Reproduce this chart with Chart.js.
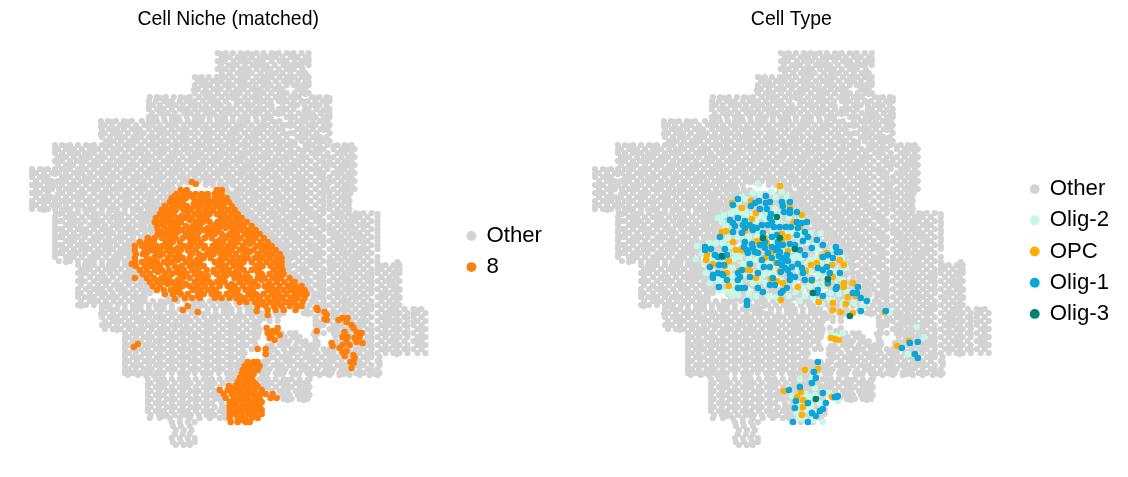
<!DOCTYPE html>
<html lang="en">
<head>
  <meta charset="UTF-8" />
  <title>Cell Niche and Cell Type</title>
  <script src="https://cdn.jsdelivr.net/npm/chart.js"></script>
  <style>
    html, body { margin: 0; background: #fff; overflow: hidden; width: 1128px; height: 477px; }
    canvas { position: absolute; top: 0; }
  </style>
</head>
<body>
  <canvas id="nicheChart" width="554" height="503" style="left:-2px"></canvas>
  <canvas id="typeChart" width="558" height="503" style="left:561px"></canvas>

  <script>
    const nicheTitle = 'Cell Niche (matched)';
    const typeTitle = 'Cell Type';
    const nicheLabels = ['Other', '8'];
    const typeLabels = ['Other', 'Olig-2', 'OPC', 'Olig-1', 'Olig-3'];

    // spatial cells outside the niche, one row per line: [y, x, x, x, ...]
    const otherRows = [
      [53,218,226,233,241,248,257,264,272,279,287,294,302,309],
      [57,222,230,238,245,252,260,268,276,283,291,298,306],
      [61,218,225,234,241,249,256,263,272,280,287,295,302,309],
      [65,221,229,237,245,253,260,267,275,284,290,298,309],
      [69,218,226,233,241,249,257,264,271,279,287,294,303],
      [73,222,230,238,245,252,261,268,276,283,291,299,306],
      [77,195,202,209,217,226,233,241,248,257,264,272,280,287,295,302,309],
      [81,198,206,213,222,229,237,245,253,260,268,276,284,291,298,306],
      [85,195,202,210,218,225,233,241,249,256,264,271,279,287,294,303,309],
      [89,198,206,214,221,229,237,244,252,261,268,275,283,298,306],
      [93,195,203,210,218,226,233,240,248,256,264,272,280,287,295,302,309],
      [97,150,157,166,174,181,190,199,206,214,222,229,237,245,252,260,268,276,284,291,299,312,320,327],
      [101,149,156,164,172,180,187,195,203,210,218,226,241,248,256,264,271,279,287,294,302,308,316,323,330],
      [105,153,160,168,176,183,191,199,206,214,221,229,237,245,253,260,268,283,291,298,305,312,320,327],
      [109,149,157,164,172,180,188,195,202,210,218,225,233,241,249,256,264,272,279,287,294,309,317,330],
      [113,152,160,168,175,184,191,198,206,214,222,230,237,245,252,260,268,275,283,291,299,305,313,321,328],
      [117,149,156,164,172,179,187,195,203,210,217,225,233,241,248,256,264,271,287,295,303,309,316,324,330],
      [121,101,108,116,124,132,142,149,157,165,172,180,188,195,202,210,218,226,233,240,248,257,264,272,280,291,298,306,313,320,328],
      [125,105,112,120,128,136,145,153,160,168,176,184,191,199,206,214,222,229,237,245,252,260,268,276,283,287,294,302,309,316,324,330],
      [129,102,109,117,124,132,140,149,156,164,172,179,187,195,203,210,218,225,233,241,249,256,264,272,279,298,306,313,321,328],
      [133,105,113,120,128,136,144,152,160,168,175,183,191,198,206,214,222,230,237,245,253,260,268,275,283,291,294,302,309,317,330],
      [137,102,110,117,125,133,141,149,157,164,172,179,187,195,203,210,218,226,233,240,248,256,264,272,279,287,298,306,313,321,327],
      [141,106,114,121,129,137,145,153,160,168,176,183,191,199,206,214,221,229,237,245,252,260,268,276,283,291,302,309,317,324,330],
      [145,55,62,70,78,86,94,102,110,118,125,133,141,149,157,164,172,180,187,195,203,210,218,226,233,241,248,256,264,272,280,287,295,306,313,320,328,338,345,352],
      [149,58,66,74,82,90,98,106,113,121,129,137,145,153,160,168,176,184,191,198,206,214,222,229,237,245,252,260,268,276,283,291,299,309,316,324,334,342,349,355],
      [153,55,62,70,78,85,94,102,109,117,125,133,141,148,156,164,172,180,188,195,202,210,218,226,233,241,249,256,264,271,279,287,295,303,312,320,328,338,345,352],
      [157,58,66,74,81,90,98,105,113,121,129,136,144,152,160,168,175,183,191,199,206,214,221,229,237,245,253,260,268,276,283,291,299,307,316,324,334,342,349,355],
      [161,55,62,70,77,86,94,102,110,117,125,133,141,149,156,164,172,179,187,195,203,210,218,226,233,241,248,256,264,272,280,287,295,303,311,320,330,338,345,352],
      [165,58,66,73,82,90,98,106,114,121,129,137,145,153,160,168,176,183,191,199,206,214,222,229,237,245,252,260,268,276,284,291,299,307,316,324,334,342,349,355],
      [169,32,40,48,55,62,70,78,86,94,102,109,117,125,133,141,149,157,164,172,180,187,195,203,210,218,226,233,241,249,256,264,272,280,287,295,303,311,320,328,338,345,352],
      [173,36,44,52,59,66,74,82,90,98,106,113,121,129,137,145,153,160,168,176,183,191,199,206,214,222,229,237,245,252,260,268,276,284,291,299,307,316,324,334,342,349,355],
      [177,32,40,48,62,70,78,85,94,102,110,117,125,133,141,148,156,164,172,180,188,195,203,210,218,226,233,241,248,256,264,272,279,287,295,303,311,320,330,338,345,352],
      [181,36,44,52,58,66,74,81,90,98,105,113,121,129,137,144,152,160,168,175,183,191,199,206,214,221,229,237,245,253,260,268,276,283,291,299,307,316,324,334,342,349,355],
      [185,32,40,48,55,62,70,78,86,94,102,109,117,125,133,141,149,157,164,172,180,206,213,220,226,233,241,249,256,264,272,280,287,295,303,311,320,328,338,345,352],
      [189,36,44,52,59,66,74,82,90,98,106,113,121,129,137,145,153,160,168,174,227,237,245,252,260,268,276,284,291,299,307,316,324,334,342,349,355],
      [193,32,40,48,62,70,78,85,94,102,110,117,125,133,141,148,156,164,171,229,236,241,248,256,264,272,279,287,295,303,311,320,330,338,345,351],
      [197,36,44,52,58,66,74,82,90,98,105,113,121,129,137,145,152,160,167,232,238,245,253,260,268,276,283,291,299,307,316,324,334,342,349],
      [201,32,40,48,55,62,70,78,86,94,102,109,117,125,133,141,149,157,164,234,241,249,256,264,272,280,287,295,303,311,320,330,338,345,350],
      [205,36,44,52,59,66,74,82,90,98,106,113,121,129,137,145,153,159,238,245,252,260,268,276,284,291,299,307,316,324,334,342,349],
      [209,32,40,48,55,62,70,78,85,94,102,110,117,125,133,141,148,156,241,248,256,264,272,279,287,295,303,311,320,330,338,345,350],
      [213,56,62,70,78,86,94,102,109,117,125,133,141,149,154,244,252,260,268,276,283,291,299,307,316,324,334,342,349,356,364,372],
      [217,55,66,74,82,90,98,106,113,121,129,137,145,150,248,256,264,272,279,287,295,303,311,320,330,338,345,352,360,368,378],
      [221,59,62,70,78,85,94,102,110,117,125,133,141,149,253,260,268,276,284,291,299,307,316,324,334,342,349,356,364,372],
      [225,55,66,74,81,90,98,105,113,121,129,136,144,151,258,264,272,280,287,295,303,311,320,330,338,345,352,360,368,378],
      [229,59,62,70,78,86,94,102,110,118,125,133,141,148,152,262,268,276,283,291,299,307,316,324,334,342,349,356,364,372],
      [233,55,66,74,82,90,98,106,113,121,129,137,145,152,266,272,279,287,295,303,311,320,330,338,345,352,360,368,378],
      [237,59,62,70,78,85,94,102,109,117,125,133,141,149,270,276,284,291,299,307,316,324,334,342,349,356,364,372],
      [241,55,66,74,82,90,98,106,114,121,129,134,274,280,287,295,303,311,320,330,338,345,352,360,368,378],
      [245,59,62,70,78,86,94,102,110,117,125,129,278,283,291,299,307,316,324,334,342,349,356,364,372],
      [249,55,66,74,81,90,98,105,113,121,129,282,287,295,303,311,320,330,338,345,352,360,368,378],
      [253,59,62,70,78,85,94,102,109,117,125,130,286,291,299,307,316,324,334,342,349,356,364,372],
      [257,55,66,74,82,90,98,106,114,121,129,288,295,303,311,320,330,338,345,352,360,368,378],
      [261,59,70,78,86,94,102,110,118,125,129,289,299,307,316,324,334,342,349,356,364,372],
      [265,78,85,94,102,109,117,125,130,288,295,303,311,320,330,338,345,352,360,368,378,386,394,400],
      [269,81,90,98,106,114,121,129,134,289,299,307,316,324,334,342,349,356,364,372,382,390,397],
      [273,78,86,94,102,110,117,125,133,137,290,295,303,311,320,330,338,345,352,360,368,378,386,394,400],
      [277,81,90,98,105,113,121,129,136,141,296,299,307,316,324,334,342,349,356,364,372,382,390,397],
      [281,78,85,94,102,109,117,125,133,141,144,301,311,320,330,338,345,352,360,368,378,386,394,400],
      [285,81,90,98,106,114,121,129,137,147,308,316,324,334,342,349,356,364,372,382,390,397],
      [289,78,86,94,102,110,118,125,133,141,151,311,320,330,338,345,352,360,368,378,386,394,400],
      [293,81,90,98,105,113,121,129,136,144,150,314,324,334,342,349,356,364,372,382,390,397],
      [297,78,85,94,102,109,117,125,133,141,145,168,178,314,320,330,338,345,352,360,368,378,386,394,400],
      [301,81,90,98,106,114,121,129,137,145,153,161,170,178,186,194,202,210,218,226,236,312,324,334,342,349,356,364,372,382,390,397],
      [305,78,86,94,102,110,118,125,133,141,149,156,164,172,194,205,213,221,229,238,246,310,320,330,338,345,352,360,368,378,386,394,400],
      [309,102,109,117,125,133,141,149,157,164,172,180,189,197,208,216,224,232,240,248,255,307,315,324,334,342,349,356,364,372,382,390,397,405,414,422],
      [313,105,113,121,129,136,144,152,160,168,175,184,192,200,208,216,224,232,240,248,256,262,276,284,304,311,320,330,338,345,352,360,368,378,386,394,400,408,418,426],
      [317,102,110,117,125,133,141,149,156,164,172,180,188,196,204,212,220,228,236,244,252,260,270,278,316,324,334,342,349,356,364,372,382,390,397,405,414,422],
      [321,105,113,121,129,137,145,153,160,168,176,183,191,199,207,215,223,231,239,247,255,260,270,278,316,330,338,345,352,360,368,378,386,394,400,408,418,426],
      [325,102,109,117,125,133,141,148,156,164,172,180,187,195,203,211,219,227,235,243,251,258,316,324,334,342,349,356,364,372,382,390,397,405,414,422],
      [329,105,113,121,129,136,144,152,160,168,175,183,191,199,207,215,223,231,239,247,255,260,318,330,338,345,352,360,368,378,386,394,400,408,418,426],
      [333,125,133,141,149,157,164,172,180,188,195,203,211,219,227,235,243,251,259,282,290,296,318,324,334,342,349,356,364,372,382,390,397,405,414,422],
      [337,129,136,144,152,160,168,176,183,191,199,207,215,223,231,239,247,255,258,285,293,300,336,345,352,360,368,378,386,394,400,408,418,426],
      [341,125,133,141,149,156,164,172,180,187,195,203,211,219,227,235,243,251,255,282,290,298,306,316,336,342,349,356,364,372,382,390,397,405,414,422],
      [345,129,137,145,153,160,168,176,184,191,199,207,215,223,231,239,247,256,272,280,288,296,304,312,318,337,345,352,360,368,378,386,394,400,408,418,426],
      [349,125,133,141,148,156,164,172,180,188,195,203,211,219,227,235,243,252,275,284,292,300,308,316,324,330,349,356,364,372,382,390,397,405,414,422],
      [353,129,136,144,152,160,168,175,183,191,199,207,215,223,231,239,245,270,278,286,294,302,310,318,326,334,342,352,360,368,378,386,394,400,408,418,426],
      [357,125,133,141,149,157,164,172,180,188,195,203,211,219,227,235,243,268,274,282,290,298,306,314,322,330,338,346,356,364,372,380],
      [361,129,137,145,153,160,168,176,183,191,199,207,215,223,231,239,243,265,278,286,294,302,310,318,326,334,342,350,360,368,378],
      [365,125,133,141,149,156,164,172,180,187,195,203,211,219,227,235,240,265,274,282,290,298,306,314,322,330,338,346,356,364,372,380],
      [369,129,136,144,152,160,168,175,183,191,199,207,215,223,231,238,263,270,278,286,294,302,310,318,326,334,342,350,360,368,378],
      [373,125,133,141,149,157,164,172,180,188,195,203,211,219,227,236,262,268,276,284,292,300,308,316,324,332,340,348,356,364,372,380],
      [375,128,138,146,154,310,320,330,340,350,360,370,378],
      [379,148,156,164,172,180,188,196,204,212,220,228,234,260,268,276,284,292,300,310],
      [383,151,159,167,175,183,191,199,207,215,223,232,264,272,280,288,296,304,308],
      [387,148,156,164,172,180,188,196,204,212,220,230,262,268,276,284,292,300,310],
      [391,151,159,167,175,183,191,199,207,215,220,265,272,280,288,296,304,308],
      [395,148,156,164,172,180,188,196,204,212,218,282,290,298,306,310],
      [399,151,159,167,175,183,191,199,207,215,220,284,292,300,308],
      [403,148,156,164,172,180,188,196,204,212,222],
      [407,151,159,167,175,183,191,199,207,215,225],
      [411,148,156,164,172,180,188,196,204,212,220,226],
      [415,151,159,167,175,183,191,199,207,215,224],
      [418,150,160,170,180,190,200,210,220,226],
      [422,172,180,188,195],
      [426,173,181,190],
      [430,176,184,192],
      [434,175,183,190],
      [438,172,180,188,195],
      [442,173,181,189,195],
      [445,176,184,190]
    ];

    // cells lying between those rows
    const otherInfill = [
      [54,222,246,253,276,291],
      [58,226,241,264,272,295,309],
      [62,222,245,260,283,306],
      [66,233,257,264,294,302],
      [70,222,245,268,291],
      [74,241,249,272,302],
      [78,198,222,245,268,291,306],
      [82,202,218,241,264,287,309],
      [86,206,230,245,268,298],
      [90,194,218,241,256,279,302],
      [94,206,237,260,283,306],
      [98,161,186,210,233,256,280,295,316,330],
      [102,168,191,214,237,260,283,304,327],
      [106,149,172,195,218,249,272,294,316],
      [110,160,184,206,229,260,283,305,324],
      [114,164,187,210,226,256,279,309,330],
      [118,153,176,199,222,245,268,291,312,327],
      [122,112,128,153,176,199,222,244,276,302,324],
      [126,101,124,149,172,195,218,241,264,291,313],
      [130,113,136,160,183,206,237,260,283,302,324],
      [134,101,116,140,164,187,210,233,256,287,305],
      [138,121,137,153,183,206,229,252,275,302,317],
      [142,110,133,164,187,210,233,256,279,295,320],
      [146,66,90,106,129,153,176,199,222,245,268,291,309,334,349],
      [150,55,70,94,117,141,164,187,210,233,256,279,305,320,345],
      [154,74,90,113,137,160,176,199,222,245,268,291,316,342],
      [158,62,86,102,125,149,172,195,218,241,264,287,303,330,352],
      [162,58,82,98,121,145,168,191,214,237,252,276,299,324,349],
      [166,70,94,109,133,156,180,203,226,249,272,295,328,345],
      [170,44,66,82,106,129,153,176,199,222,245,268,291,316,342],
      [174,32,55,78,102,125,149,172,195,218,241,264,287,320,338],
      [178,44,66,90,113,137,160,183,206,229,252,276,299,324,349],
      [182,48,62,86,110,133,156,187,210,233,256,280,303,330,352],
      [186,36,52,74,98,121,145,168,222,252,276,299,324,349],
      [190,48,70,94,117,141,164,241,264,287,303,328,345],
      [194,36,58,82,105,129,152,233,253,276,299,324,349],
      [198,48,78,102,125,149,235,256,280,303,330,345],
      [202,44,66,90,106,129,153,238,253,276,299,324,349],
      [206,32,55,78,102,125,149,241,264,287,303,330],
      [210,44,66,90,113,137,152,245,260,284,307,324,349],
      [214,59,74,98,121,145,248,272,295,311,338,360,378],
      [218,70,94,117,141,252,276,291,316,342,356],
      [222,55,74,98,121,145,258,280,303,320,352,378],
      [226,70,94,117,141,262,276,299,324,349,364],
      [230,55,82,106,129,145,266,287,311,330,352,378],
      [234,62,86,110,133,270,291,316,334,356],
      [238,55,74,98,121,145,274,295,320,338,360,378],
      [242,70,94,110,130,278,299,324,342,364],
      [246,55,82,105,129,287,311,338,352,378],
      [250,62,86,109,125,286,316,342,364],
      [254,55,74,98,121,295,320,345,360],
      [258,70,94,117,291,316,338,356],
      [262,66,90,113,288,311,330,352,378,398],
      [266,90,114,291,316,334,356,382,397],
      [270,86,110,133,303,330,352,378,400],
      [274,81,102,129,307,324,349,372,394],
      [278,98,125,298,320,345,368,397],
      [282,81,105,129,305,324,349,372,390],
      [286,90,117,141,320,338,364,394],
      [290,98,121,146,324,349,372,400],
      [294,78,102,125,318,338,364,386],
      [298,90,113,137,324,356,382,400],
      [302,94,121,141,166,198,222,316,345,364,390],
      [306,81,106,137,160,201,225,250,326,349,372,394],
      [310,113,137,161,193,228,252,320,345,368,394,418],
      [314,101,125,148,172,204,228,252,280,308,334,364,390,414],
      [318,113,137,160,184,216,240,264,316,338,364,386,408],
      [322,117,141,164,187,211,235,258,320,342,364,390,414],
      [326,105,129,152,176,207,231,255,320,338,360,386,408],
      [330,117,141,164,187,211,235,258,334,349,372,397,422],
      [334,137,160,184,207,231,255,294,314,338,360,386,408],
      [338,125,148,172,195,219,243,281,297,316,349,372,397,422],
      [342,137,160,184,207,231,286,302,318,345,368,394,418],
      [346,125,149,172,195,219,243,268,284,308,316,349,372,397,422],
      [350,137,160,184,207,231,272,296,312,334,360,386,408],
      [354,125,148,172,195,219,243,266,290,306,330,349,372,397],
      [358,137,160,184,207,231,270,286,310,334,350,368],
      [362,125,149,172,195,219,268,290,314,330,356,380],
      [366,137,160,183,207,231,262,278,302,326,342,360],
      [370,125,148,172,195,219,266,282,306,330,346,372],
      [374,137,160,184,207,231,264,280,296,312,328,344,360,376],
      [380,160,184,208,230,264,288,308],
      [384,148,164,188,212,268,284,300],
      [388,160,184,208,266,288,306],
      [392,148,172,196,218,284,300],
      [396,160,184,208,286,302],
      [400,148,172,196,288,304],
      [404,160,184,208],
      [408,148,172,196,222],
      [412,160,184,208],
      [416,164,188,212]
    ];

    // cells of niche 8, same row layout
    const nicheRows = [
      [190,181,187,217,222],
      [194,177,184,190,196,202,208,215,222],
      [198,172,179,186,194,201,208,215,222,227],
      [202,170,176,183,198,205,212,219,226,229],
      [206,165,172,180,187,194,202,209,216,224,232],
      [210,162,169,176,184,191,199,206,213,221,228,235],
      [214,160,167,174,188,195,203,210,217,225,232,238],
      [218,156,163,171,178,185,192,200,207,221,229,236,242],
      [222,155,160,167,174,181,196,203,210,218,225,232,240,247],
      [226,157,164,171,178,186,193,200,214,222,229,237,244,252],
      [230,158,168,175,182,189,197,204,211,219,233,240,248,256],
      [234,158,165,172,186,193,208,215,222,230,237,245,252,260],
      [238,155,162,169,176,183,190,198,205,212,226,234,241,249,256,264],
      [242,140,147,154,166,173,180,194,201,216,223,231,238,246,253,261,268],
      [246,135,142,150,157,163,170,184,191,198,205,213,220,228,235,243,257,265,272],
      [250,135,145,152,160,167,174,181,188,196,210,217,225,232,240,247,254,262,269,276],
      [254,136,143,156,163,171,178,192,199,207,214,221,229,236,244,258,266,273,280],
      [258,135,147,154,168,175,183,190,204,211,226,233,240,248,255,263,270,277,282],
      [262,135,142,149,157,164,172,186,193,200,215,222,230,237,244,252,267,274,282],
      [266,136,145,152,160,175,182,190,197,204,219,226,234,241,256,263,271,278,282],
      [270,140,147,155,162,169,184,192,207,214,221,229,244,252,259,274,283],
      [274,143,150,165,172,180,187,195,202,217,224,232,239,247,262,270,277,284],
      [278,147,154,162,169,183,190,198,205,220,235,243,250,258,265,273,281,290],
      [282,150,157,165,172,180,195,202,210,217,225,240,247,255,269,277,285,295],
      [286,153,160,175,183,190,198,205,220,228,235,243,258,265,272,280,288,296,302],
      [290,157,164,171,178,193,201,208,216,231,238,246,253,268,276,284,291,299,305],
      [294,165,173,181,188,204,212,219,227,234,249,256,264,272,287,295,302,307],
      [298,185,192,200,215,222,230,237,245,252,260,268,275,283,291,298,305],
      [302,240,247,255,263,270,278,286,294,303],
      [306,258,266,274,282,290,298,302],
      [310,268,276,284,296],
      [362,248,254,258],
      [366,245,251,257,260],
      [370,243,249,255,258],
      [374,242,248,254],
      [378,240,246,252],
      [382,238,245,251,254],
      [386,229,236,243,250,258],
      [390,220,228,235,241,248,255,262],
      [394,224,232,239,246,253,260,266,273],
      [398,226,234,241,248,255,260,271,277],
      [402,230,237,245,252,258,262],
      [406,230,236,243,250,256,260],
      [410,230,238,246,253,259,262],
      [414,230,235,242,249,255,262],
      [418,230,238,245,252,258],
      [422,231,238,246,250]
    ];

    const nicheInfill = [
      [196,175,190,205,219],
      [200,181,202,216],
      [204,175,194,208,222],
      [208,165,183,198,220],
      [212,172,188,207,222],
      [216,166,182,199,221,236],
      [220,170,190,206,224],
      [224,162,177,199,217,235],
      [228,172,192,208,226,242],
      [232,162,178,199,216,236,254],
      [236,168,189,212,228,248],
      [240,150,172,194,220,236,252],
      [244,146,168,190,216,234,250,268],
      [248,156,178,204,222,244,262],
      [252,148,170,190,212,228,250,268],
      [256,160,180,202,224,244,260],
      [260,152,178,197,220,242,260,280],
      [264,148,168,194,218,236,260,280],
      [268,158,179,199,224,240,260],
      [272,158,176,198,214,236,258,280],
      [276,166,184,208,226,246,262,282],
      [280,160,178,204,222,240,262,278],
      [284,168,186,212,232,252,270,292],
      [288,180,196,212,234,250,272,294],
      [292,176,198,214,236,252,278,298],
      [296,198,218,240,258,280,296],
      [300,244,260,276,292],
      [304,262,280,296],
      [368,252],
      [372,251],
      [380,249],
      [384,240,256],
      [388,232,246],
      [392,236,250],
      [396,244,258],
      [400,240,256],
      [404,234,248],
      [408,241,256],
      [412,234,250],
      [416,240,254],
      [420,242]
    ];

    // stray niche cells and the small patches in the middle and on the right
    const nicheStray = [
      [192,182],[196,184],[148,238],[132,264],[135,278],[175,299],[183,310],[188,306],[198,312],
      [134,347],[138,344],[257,311],[268,315],
      [267,328],[278,328],[272,335],[280,335],[275,340],[268,333],[273,331],[277,332],[270,338],
      [258,349],[266,349],[266,354],
      [317,308],[318,310],[325,312],[327,315],[325,319],[327,320],[317,331],[332,343],[333,346],
      [339,320],[343,318],[348,318],[347,322],[352,325],[354,328],[357,332],[362,333],[355,338],[360,337],[363,343],[357,342],
      [345,332],[343,337],[348,337],[347,342],[343,345],[350,345],[340,348],[343,352],[347,351],[345,356],
      [354,355],[355,358],[351,362],[354,363],[352,368]
    ];

    const olig2Cells = [
      [195,184],[190,193],[219,192],[179,197],[183,199],[197,194],[208,192],[224,197],[213,197],[172,210],[183,212],[190,214],
      [198,216],[212,209],[216,216],[226,218],[238,219],[155,218],[159,222],[163,226],[176,213],[193,221],[203,219],[216,222],
      [229,232],[236,240],[244,243],[252,245],[258,233],[254,250],[247,260],[258,262],[234,256],[229,250],[222,249],[212,243],
      [205,238],[194,237],[186,237],[175,237],[165,238],[160,243],[153,243],[147,243],[134,246],[133,259],[141,263],[143,273],
      [147,283],[153,279],[158,281],[164,292],[169,296],[175,295],[168,268],[171,259],[177,257],[172,253],[167,246],[186,258],
      [193,260],[197,266],[206,262],[188,270],[180,264],[190,283],[197,280],[201,274],[208,274],[214,271],[213,258],[230,258],
      [235,270],[244,264],[248,272],[256,275],[262,278],[254,284],[247,286],[240,288],[233,292],[226,296],[213,297],[205,296],
      [193,296],[186,294],[177,283],[170,276],[166,270],[152,261],[149,256],[139,254],[270,248],[279,258],[283,268],[275,278],
      [261,287],[268,293],[276,294],[284,292],[280,303],[291,303],[300,305],[267,300],[259,304],[250,298],[242,296],[237,301],
      [248,233],[238,233],[224,234],[205,213],[210,231],[196,232],[183,216],[176,202],[168,213],[161,215],[150,261],[157,291],
      [171,291],[232,285],[218,280],[203,283],[184,275],[169,283],[238,258],[253,258],[266,262],[273,271],[280,280],
      [354,327],[361,337],[345,354],[327,313],[297,313],[268,333],[280,333],[273,336],
      [237,379],[249,378],[252,388],[260,422],[275,401],[247,397],[252,395],[257,403],[259,407],[244,410],[254,412],
      [237,418],[242,420],[250,420],[234,413],[236,406],[248,406],[243,394],[265,393],[229,396]
    ];

    const opcCells = [
      [217,186],[169,203],[188,201],[179,208],[227,207],[193,213],[189,219],[239,215],[231,222],[237,227],[186,227],[182,231],
      [163,231],[159,232],[219,234],[225,237],[202,238],[198,243],[194,241],[170,242],[204,243],[219,240],[209,252],[225,251],
      [202,258],[173,250],[179,250],[144,255],[143,260],[166,261],[150,264],[162,266],[164,273],[166,286],[176,271],[185,270],
      [187,270],[193,278],[208,279],[214,281],[220,283],[217,271],[213,263],[235,287],[243,271],[249,281],[248,265],[254,263],
      [259,257],[264,253],[277,260],[281,265],[269,265],[270,277],[265,284],[281,283],[281,287],[290,283],[285,297],[293,296],
      [256,302],[270,303],[270,310],[283,304],[278,312],[290,313],[218,300],
      [322,312],[268,338],[272,339],[276,340],[334,346],[346,341],[242,370],[255,369],[221,391],[234,397],[240,400],[238,392],
      [245,403],[240,407],[239,415],[269,397]
    ];

    const olig1Cells = [
      [175,199],[170,205],[203,196],[196,201],[203,203],[207,202],[192,203],[219,202],[227,202],[188,206],[197,209],[204,209],
      [220,206],[208,214],[207,218],[209,222],[221,212],[227,210],[234,212],[175,218],[167,220],[170,223],[172,226],[182,221],
      [180,225],[182,228],[190,227],[187,225],[194,228],[199,225],[211,227],[217,227],[223,227],[228,227],[234,222],[239,223],
      [244,222],[242,232],[235,228],[190,230],[200,233],[214,235],[209,237],[157,237],[170,232],[179,233],[245,237],[240,241],
      [234,235],[232,245],[254,240],[182,242],[181,247],[184,250],[189,244],[190,248],[192,252],[197,245],[195,253],[202,248],
      [205,253],[209,258],[215,247],[217,252],[216,256],[220,245],[227,244],[237,250],[242,255],[249,248],[142,247],[142,250],
      [148,249],[162,249],[152,255],[155,257],[164,255],[160,257],[147,267],[156,265],[161,265],[155,273],[159,274],[150,275],
      [150,278],[164,280],[175,273],[177,277],[175,280],[179,270],[187,264],[195,273],[201,267],[207,267],[215,263],[219,258],
      [224,255],[222,260],[225,261],[219,265],[222,268],[225,270],[229,267],[227,275],[227,280],[232,277],[235,264],[239,268],
      [242,280],[240,273],[260,245],[255,268],[260,270],[267,273],[260,257],[265,255],[273,247],[274,252],[277,252],[270,258],
      [264,267],[273,289],[274,287],[255,290],[254,293],[260,296],[277,273],[265,283],[290,293],[295,287],[294,293],[298,298],
      [304,301],[298,311],[249,280],[156,287],[175,288],[179,288],[182,288],[195,288],[200,292],[207,285],[212,285],[218,293],
      [224,288],[220,291],[184,301],[184,305],[160,275],[187,277],[210,278],[218,272],[209,247],[213,250],[205,225],[227,213],
      [185,253],[199,260],[202,242],[215,242],
      [323,311],[347,343],[355,342],[339,348],[352,354],[355,358],[255,362],[251,372],[253,378],[249,383],[237,387],[226,390],
      [260,393],[263,403],[274,397],[272,397],[275,396],[233,401],[245,403],[232,408],[249,413],[253,416],[257,411],[260,409],
      [230,422],[245,422]
    ];

    const olig3Cells = [[214,217],[200,238],[217,238],[159,256],[232,249],[265,279],[250,293],[287,316],[253,399]];

    const colors = {
      other: '#d3d3d3',
      niche: '#ff7f0e',
      olig2: '#c4f8e7',
      opc: '#ffb000',
      olig1: '#0ca5d8',
      olig3: '#00806e'
    };

    const fromRows = rows => rows.flatMap(([y, ...xs]) => xs.map(x => ({ x, y })));
    const fromPairs = pairs => pairs.map(([x, y]) => ({ x, y }));

    const otherPoints = fromRows(otherRows).concat(fromRows(otherInfill));
    const nichePoints = fromRows(nicheRows).concat(fromRows(nicheInfill), fromPairs(nicheStray));

    function cellSet(label, data, color, radius) {
      return {
        label,
        data,
        backgroundColor: color,
        pointBackgroundColor: color,
        pointRadius: radius,
        pointHoverRadius: radius,
        pointBorderWidth: 0,
        showLine: false
      };
    }

    // both panels share one pixel-like coordinate range, only the title and legend differ
    function spatialOptions(title) {
      return {
        responsive: false,
        animation: false,
        events: [],
        layout: { autoPadding: false, padding: 0 },
        scales: {
          x: { type: 'linear', display: false, min: -2, max: 459 },
          y: { type: 'linear', display: false, reverse: true, min: 38, max: 503 }
        },
        plugins: {
          tooltip: { enabled: false },
          title: {
            display: true,
            text: title,
            fullSize: false,
            color: '#000',
            font: { family: 'Liberation Sans', size: 19.44, weight: 'normal', lineHeight: 1.2 },
            padding: { top: 8, bottom: 6.67 }
          },
          legend: {
            position: 'right',
            reverse: true,
            labels: {
              usePointStyle: true,
              pointStyle: 'circle',
              boxWidth: 8,
              boxHeight: 7,
              padding: 9,
              color: '#000',
              font: { family: 'Liberation Sans', size: 22.2 }
            }
          }
        }
      };
    }

    // chart.js paints the first dataset last, so the top layer goes first
    new Chart(document.getElementById('nicheChart'), {
      type: 'scatter',
      data: {
        datasets: [
          cellSet(nicheLabels[1], nichePoints, colors.niche, 3.3),
          cellSet(nicheLabels[0], otherPoints, colors.other, 3.1)
        ]
      },
      options: spatialOptions(nicheTitle)
    });

    new Chart(document.getElementById('typeChart'), {
      type: 'scatter',
      data: {
        datasets: [
          cellSet(typeLabels[4], fromPairs(olig3Cells), colors.olig3, 3.3),
          cellSet(typeLabels[3], fromPairs(olig1Cells), colors.olig1, 3.3),
          cellSet(typeLabels[2], fromPairs(opcCells), colors.opc, 3.3),
          cellSet(typeLabels[1], fromPairs(olig2Cells), colors.olig2, 3.3),
          cellSet(typeLabels[0], otherPoints.concat(nichePoints), colors.other, 3.1)
        ]
      },
      options: spatialOptions(typeTitle)
    });
  </script>
</body>
</html>
